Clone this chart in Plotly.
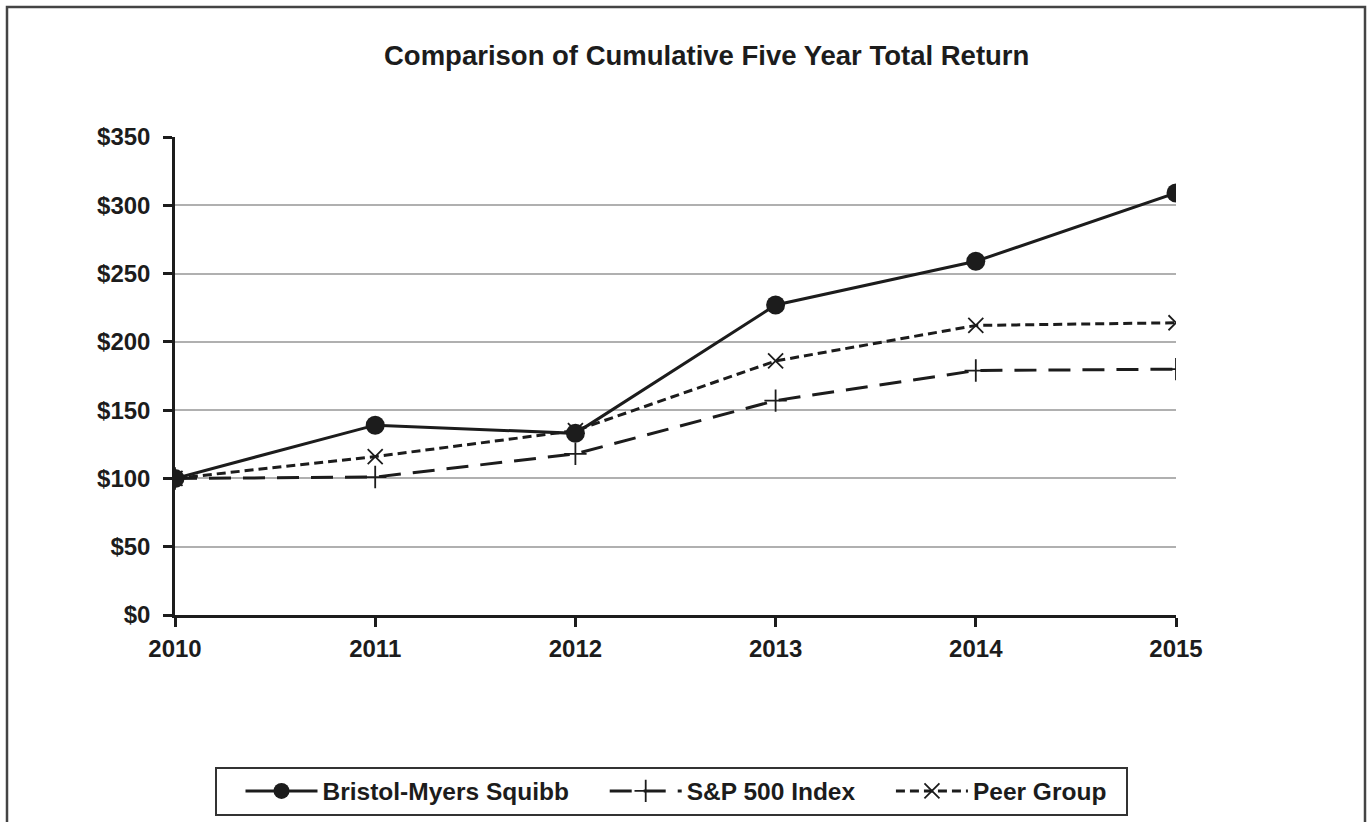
import plotly.graph_objects as go

years = [2010, 2011, 2012, 2013, 2014, 2015]
bms = [100, 139, 133, 227, 259, 309]
sp500 = [100, 101, 118, 157, 179, 180]
peer = [100, 116, 135, 186, 212, 214]
y_ticks = [0, 50, 100, 150, 200, 250, 300, 350]
y_labels = ["$" + str(v) for v in y_ticks]
series_names = ["Bristol-Myers Squibb", "S&P 500 Index", "Peer Group"]

W, H = 1370, 822
L, R, T, B = 175, 1176, 137, 615
FONT = "Liberation Sans, Arial, sans-serif"
INK = "#1c1c1c"
PAD = "\u00a0"
END_PAD = "\u00a0" * 2


def px(xp):
    return (xp - L) / (R - L)


def py(yp):
    return (B - yp) / (B - T)


fig = go.Figure()
fig.add_trace(go.Scatter(
    x=years, y=sp500, name=series_names[1] + PAD, mode="lines+markers",
    line=dict(color=INK, width=3, dash="22px,12px"),
    marker=dict(symbol="cross-thin", size=16, line=dict(color=INK, width=1.8)),
    legendrank=2,
))
fig.add_trace(go.Scatter(
    x=years, y=peer, name=series_names[2] + END_PAD, mode="lines+markers",
    line=dict(color=INK, width=3, dash="9px,5px"),
    marker=dict(symbol="x-thin", size=15, line=dict(color=INK, width=1.8)),
    legendrank=3,
))
fig.add_trace(go.Scatter(
    x=years, y=bms, name=series_names[0] + PAD, mode="lines+markers",
    line=dict(color=INK, width=3),
    marker=dict(symbol="circle", size=19, color=INK),
    legendrank=1,
))

fig.update_layout(
    width=W, height=H,
    margin=dict(l=L, r=W - R, t=T, b=H - B, pad=0, autoexpand=False),
    paper_bgcolor="white", plot_bgcolor="white",
    font=dict(family=FONT, size=24, color=INK),
    showlegend=True,
    legend=dict(
        orientation="h", x=px(671), y=py(791), xanchor="center", yanchor="middle",
        bordercolor="#333333", borderwidth=2, bgcolor="white",
        font=dict(family=FONT, size=24.5, color=INK, weight="bold"),
        itemwidth=72, indentation=24,
    ),
    xaxis=dict(
        range=[2010, 2015], tickvals=years, ticktext=[str(y) for y in years],
        showgrid=False, zeroline=False,
        showline=True, linecolor=INK, linewidth=2.5,
        ticks="outside", ticklen=9, tickwidth=2.5, tickcolor=INK,
        ticklabelstandoff=1,
        tickfont=dict(family=FONT, size=24, color=INK, weight="bold"),
        fixedrange=True,
    ),
    yaxis=dict(
        range=[0, 350], tickvals=y_ticks, ticktext=y_labels,
        showgrid=True, gridcolor="#b0b0b0", gridwidth=2,
        zeroline=False,
        showline=True, linecolor=INK, linewidth=2.5,
        ticks="outside", ticklen=9, tickwidth=2.5, tickcolor=INK,
        ticklabelstandoff=8,
        tickfont=dict(family=FONT, size=24, color=INK, weight="bold"),
        fixedrange=True,
    ),
    annotations=[dict(
        text="<b>Comparison of Cumulative Five Year Total Return</b>",
        xref="paper", yref="paper",
        x=px(706), y=py(55),
        xanchor="center", yanchor="middle", showarrow=False,
        font=dict(family=FONT, size=27.5, color=INK),
    )],
    shapes=[dict(
        type="rect", xref="paper", yref="paper",
        x0=px(7), x1=px(1365), y0=py(840), y1=py(7),
        line=dict(color="#444444", width=2.5), layer="below",
    )],
)

fig.write_html("out.html", config={"displayModeBar": False},
               post_script="document.body.style.margin='0px';")
